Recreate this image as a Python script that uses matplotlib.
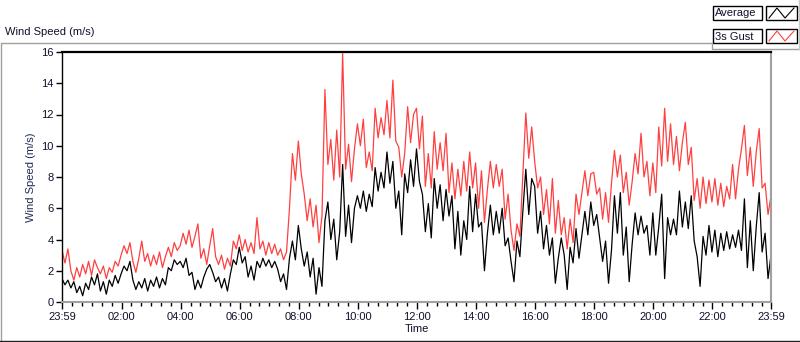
#!/usr/bin/env python
"""Wind speed over one day: 6-minute average and 3 s gust (LabVIEW-style chart)."""

import matplotlib
matplotlib.use("Agg")
import matplotlib.pyplot as plt
import numpy as np
from matplotlib.lines import Line2D
from matplotlib.patches import Rectangle

W, H = 800, 342

# samples every 6 min, starting 23:59 the previous day, ending 23:59
average = [
    1.5, 1.1, 1.4, 0.9, 1.3, 0.6, 1.0, 0.4, 1.2, 0.8, 1.6, 1.1, 1.8, 0.7, 1.3, 0.5, 1.4, 1.0, 1.7, 1.2,
    1.8, 2.3, 2.0, 2.6, 1.4, 0.8, 1.3, 0.9, 1.5, 0.7, 1.4, 1.0, 1.6, 0.9, 1.5, 1.1, 2.2, 2.0, 2.7, 2.4,
    2.6, 2.2, 2.8, 1.7, 1.9, 0.8, 1.4, 0.9, 1.6, 2.1, 2.4, 1.9, 1.3, 1.6, 0.9, 1.5, 0.7, 1.8, 2.7, 2.4,
    3.5, 2.5, 2.9, 1.6, 2.3, 1.4, 2.6, 2.2, 2.8, 2.3, 2.7, 2.2, 2.6, 2.1, 1.3, 1.8, 0.8, 2.8, 3.9, 2.7,
    4.9, 3.4, 2.3, 3.2, 1.6, 2.8, 0.5, 2.2, 1.0, 5.2, 6.4, 4.0, 5.3, 2.7, 4.5, 8.8, 4.2, 6.2, 3.8, 6.0,
    6.8, 6.0, 7.1, 5.8, 6.9, 6.1, 8.6, 7.1, 8.3, 7.3, 9.6, 7.6, 9.0, 6.0, 7.1, 4.3, 8.2, 7.0, 9.1, 7.4,
    9.8, 7.7, 6.9, 4.5, 6.3, 4.1, 7.9, 6.0, 7.5, 5.2, 7.2, 5.5, 6.8, 3.4, 5.8, 3.0, 5.2, 4.0, 7.4, 4.5,
    6.9, 4.8, 5.1, 2.0, 4.4, 6.2, 4.3, 5.8, 4.4, 6.0, 3.6, 4.1, 2.6, 1.3, 3.9, 2.9, 5.8, 8.5, 5.6, 7.9,
    7.4, 4.4, 5.8, 3.4, 4.9, 3.0, 4.1, 1.2, 2.8, 4.1, 3.0, 0.8, 3.5, 2.5, 4.7, 2.8, 4.3, 5.8, 4.3, 6.4,
    4.9, 5.6, 4.1, 2.6, 3.9, 1.2, 3.3, 6.8, 4.4, 7.0, 3.0, 4.8, 1.3, 3.7, 5.7, 4.3, 5.5, 4.4, 4.9, 3.0,
    5.7, 3.0, 4.8, 6.9, 1.5, 5.4, 4.3, 5.3, 4.3, 7.1, 4.8, 6.4, 4.7, 6.8, 3.9, 2.9, 1.0, 4.2, 3.0, 4.9,
    3.2, 4.6, 2.9, 4.4, 3.3, 4.5, 3.4, 4.3, 3.5, 4.6, 3.3, 6.6, 2.2, 5.2, 2.0, 4.8, 7.0, 3.2, 4.4, 1.5,
    3.0,
]
gust = [
    3.3, 2.5, 3.4, 2.0, 1.4, 2.2, 1.6, 2.4, 1.8, 2.6, 1.7, 2.7, 2.2, 1.8, 2.3, 1.5, 2.2, 1.9, 2.6, 2.3,
    3.0, 3.6, 3.1, 3.8, 2.6, 1.9, 2.8, 3.9, 2.6, 3.1, 2.3, 3.0, 2.4, 3.2, 2.2, 2.9, 3.5, 2.9, 3.8, 3.3,
    3.6, 4.4, 3.7, 4.6, 3.5, 4.2, 5.0, 2.8, 3.4, 2.4, 3.6, 4.7, 2.9, 2.4, 3.0, 2.1, 2.8, 2.3, 3.9, 3.4,
    4.3, 3.3, 4.0, 3.2, 3.8, 3.1, 5.4, 3.4, 3.9, 3.0, 3.8, 3.1, 3.7, 3.0, 3.4, 2.7, 3.2, 6.0, 9.5, 7.8,
    10.3, 8.2, 6.9, 5.2, 6.6, 4.8, 6.2, 3.8, 5.5, 13.6, 8.8, 10.4, 7.8, 11.0, 8.0, 15.9, 8.5, 10.1, 7.7, 9.8,
    11.4, 10.0, 11.7, 8.6, 9.6, 8.4, 12.4, 10.5, 11.8, 10.7, 12.9, 10.5, 14.2, 10.3, 9.9, 8.0, 9.5, 12.5, 10.2, 12.0,
    12.4, 9.8, 11.9, 7.4, 9.5, 7.3, 10.9, 8.5, 10.2, 8.4, 10.8, 7.0, 8.9, 6.6, 8.5, 6.8, 9.0, 7.1, 9.6, 7.3,
    8.9, 6.0, 8.4, 5.1, 7.2, 9.0, 7.3, 8.8, 7.4, 8.5, 5.3, 6.9, 4.6, 3.3, 5.0, 4.2, 8.2, 12.1, 9.2, 11.2,
    9.0, 7.3, 8.0, 5.6, 7.2, 5.0, 7.9, 4.4, 6.5, 4.3, 5.4, 3.4, 5.3, 3.8, 6.9, 5.6, 7.0, 8.4, 6.8, 8.2,
    8.3, 6.9, 7.3, 5.3, 7.0, 5.1, 7.6, 9.7, 8.0, 9.4, 7.0, 8.3, 6.2, 7.7, 9.5, 8.2, 10.8, 8.0, 9.0, 6.8,
    8.9, 7.0, 11.2, 8.7, 12.4, 9.0, 11.4, 8.8, 10.6, 8.4, 10.2, 11.5, 8.8, 9.9, 6.5, 7.9, 6.0, 8.0, 6.3, 7.8,
    6.4, 7.9, 6.2, 7.6, 6.1, 7.4, 6.6, 8.8, 6.6, 8.5, 9.8, 11.3, 8.1, 9.9, 7.4, 9.6, 11.1, 7.3, 7.6, 5.6,
    6.8,
]
tick_labels = ["23:59", "02:00", "04:00", "06:00", "08:00", "10:00", "12:00",
               "14:00", "16:00", "18:00", "20:00", "22:00", "23:59"]
legend_names = ["Average", "3s Gust"]
series_colors = ["#000000", "#ff4040"]

TEXT = "#10102a"


def px(x, y):
    """pixel position (top-left origin) -> figure fraction"""
    return x / W, 1 - y / H


def fig_line(fig, xs, ys, color, lw=1.0):
    pts = [px(x, y) for x, y in zip(xs, ys)]
    fig.add_artist(Line2D([p[0] for p in pts], [p[1] for p in pts],
                          transform=fig.transFigure, color=color, lw=lw))


def fig_box(fig, x0, y0, x1, y1, edge="#000000"):
    (fx0, fy1), (fx1, fy0) = px(x0, y0), px(x1, y1)
    fig.add_artist(Rectangle((fx0, fy0), fx1 - fx0, fy1 - fy0, transform=fig.transFigure,
                             facecolor="white", edgecolor=edge, lw=1.0))


def main() -> None:
    plt.rcParams["font.family"] = ["Liberation Sans", "DejaVu Sans"]
    fig = plt.figure(figsize=(W / 100, H / 100), dpi=100)
    fig.patch.set_facecolor("white")

    # plot area (pixel box 62..771 x 52..302)
    l, b = px(62, 302)
    r, t = px(771, 52)
    ax = fig.add_axes([l, b, r - l, t - b])

    hours = -1 / 60 + 0.1 * np.arange(len(average))
    ax.plot(hours, gust, color=series_colors[1], lw=0.9)
    ax.plot(hours, average, color=series_colors[0], lw=0.9)

    ax.set_xlim(-1 / 60, 24 - 1 / 60)
    ax.set_ylim(0, 16)
    major = [-1 / 60] + list(range(2, 24, 2)) + [24 - 1 / 60]
    ax.set_xticks(major)
    ax.set_xticklabels(tick_labels, fontsize=8, color=TEXT)
    minor = [m / 3 for m in range(1, 72) if m % 6 != 0]
    ax.set_xticks(minor, minor=True)
    ax.set_yticks(range(0, 17, 2))
    ax.tick_params(axis="y", labelsize=8, labelcolor=TEXT, length=4, width=1, pad=2)
    ax.tick_params(axis="x", which="major", length=5, width=1, pad=2)
    ax.tick_params(axis="x", which="minor", length=3, width=1)

    ax.set_xlabel("Time", fontsize=8, color=TEXT, labelpad=2)
    ax.set_ylabel("Wind Speed (m/s)", fontsize=8, color="#1c2a55", labelpad=4)

    # inset 3D-ish frame: dark top/left, gray bottom/right
    ax.spines["top"].set_linewidth(1.6)
    ax.spines["left"].set_linewidth(1.0)
    ax.spines["bottom"].set_color("#a0a0a0")
    ax.spines["right"].set_color("#a0a0a0")
    ax.spines["bottom"].set_linewidth(1.5)
    ax.spines["right"].set_linewidth(1.5)

    # outer panel frame + title
    fig_line(fig, [0.5, 0.5, 712, 712, 799], [341, 42.5, 42.5, 49, 49], "#a0a0a0")
    fig_line(fig, [799, 799], [0, 49], "#c8c8c8")
    fig_line(fig, [0, 800], [341.2, 341.2], "#202020")
    fig.text(*px(5, 32), "Wind Speed (m/s)", fontsize=8, color=TEXT, va="center", ha="left")

    # legend: name box + swatch with zigzag icon
    for k, (name, col) in enumerate(zip(legend_names, series_colors)):
        y0, y1 = 6 + 23 * k, 20 + 23 * k
        fig_box(fig, 713, y0, 762, y1)
        fig.text(*px(715, (y0 + y1) / 2 + 0.5), name, fontsize=8, color=TEXT,
                 va="center", ha="left")
        fig_box(fig, 766, y0, 797, y1)
        fig_line(fig, [769, 777, 785, 794], [y1 - 2, y0 + 2, y1 - 2, y0 + 2], col, lw=0.8)

    fig.savefig("out.png", dpi=100)
    plt.close(fig)


if __name__ == "__main__":
    main()
